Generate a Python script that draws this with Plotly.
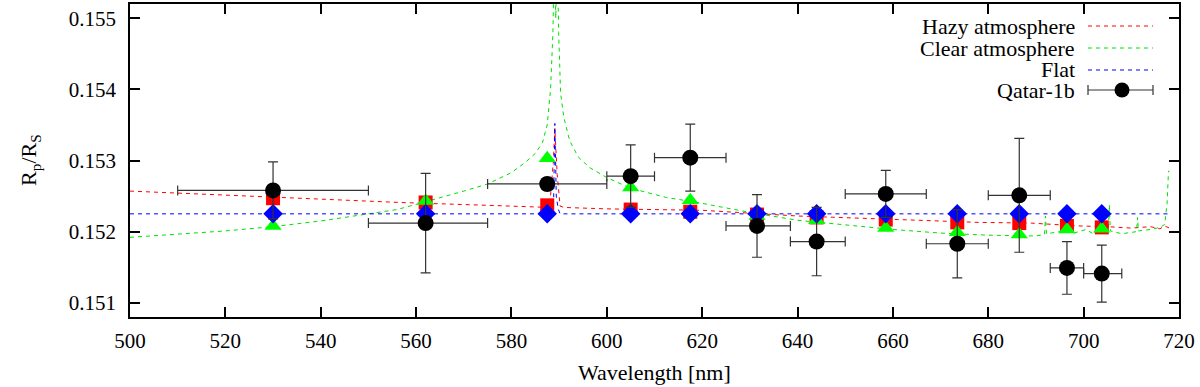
import plotly.graph_objects as go

# ---- observed transmission spectrum (Qatar-1b) ----
wl = [530, 562, 587.5, 605, 617.5, 631.5, 644, 658.5, 673.5, 686.5, 696.5, 703.8]
bin_lo = [510, 550, 575, 600, 610, 625, 638.5, 650, 667, 680, 693, 700]
bin_hi = [550, 575, 600, 610, 625, 638.5, 650, 667, 680, 693, 700, 708]
rp = [0.15258, 0.15212, 0.15267, 0.15278, 0.15304, 0.15208, 0.15186, 0.15253,
      0.15183, 0.15251, 0.15149, 0.15141]
rp_err = [0.0004, 0.0007, 0.00008, 0.00044, 0.00047, 0.00044, 0.00048, 0.00033,
          0.00048, 0.0008, 0.00037, 0.0004]

# ---- binned model values ----
hazy_pts = [0.15247, 0.15241, 0.15237, 0.15231, 0.15228, 0.15224, 0.15220, 0.15217,
            0.15213, 0.15212, 0.15208, 0.15206]
clear_pts = [0.15208, 0.15243, 0.15303, 0.15262, 0.15244, 0.15222, 0.15216, 0.15205,
             0.15199, 0.15196, 0.15203, 0.15204]
flat_pts = [0.15225] * 12

# ---- model spectra ----
hazy_wl = [500, 530, 556.6, 575, 588.0, 588.8, 589.1, 589.6, 590.2, 591, 600, 620,
           630, 640, 661, 678, 689, 699, 705, 710, 714, 716, 717, 718]
hazy_val = [0.15257, 0.15248, 0.15241, 0.15237, 0.15234, 0.15300, 0.15345, 0.15280,
            0.15236, 0.15234, 0.15232, 0.15230, 0.15226, 0.15222, 0.15217, 0.15213,
            0.15212, 0.15208, 0.15207, 0.15205, 0.15207, 0.15204, 0.15208, 0.15205]

clear_wl = [500, 510, 520, 530, 540, 550, 556, 562, 566, 570, 575, 580, 583, 585,
            586.5, 587.5, 588.2, 588.7, 589.0, 589.3, 589.6, 589.9, 590.3, 591,
            592.2, 594, 596.4, 600, 605, 612.5, 619, 630, 640, 650, 660, 670, 680,
            688, 690, 691.8, 692.0, 692.2, 694, 696, 698, 700.5, 702, 705.2, 705.4,
            705.6, 708, 711.1, 711.3, 711.5, 714, 716, 717.0, 717.5, 717.8, 718]
clear_val = [0.15192, 0.15196, 0.15201, 0.15207, 0.15215, 0.15225, 0.15231, 0.15242,
             0.15249, 0.15257, 0.15267, 0.15283, 0.15298, 0.15310, 0.15325, 0.15350,
             0.15400, 0.15480, 0.15600, 0.15500, 0.15600, 0.15480, 0.15395, 0.15360,
             0.15328, 0.15305, 0.15290, 0.15276, 0.15261, 0.15248, 0.15241, 0.15227,
             0.15216, 0.15209, 0.15203, 0.15198, 0.15195, 0.15194, 0.15194, 0.15196,
             0.15222, 0.15197, 0.15199, 0.15201, 0.15198, 0.15203, 0.15197, 0.15200,
             0.15238, 0.15201, 0.15197, 0.15200, 0.15220, 0.15201, 0.15203, 0.15206,
             0.15210, 0.15240, 0.15285, 0.15285]

flat_wl = [500, 588.8, 589.1, 589.4, 589.8, 590.2, 718]
flat_val = [0.15225, 0.15225, 0.15352, 0.15250, 0.15232, 0.15225, 0.15225]

x_ticks = [500, 520, 540, 560, 580, 600, 620, 640, 660, 680, 700, 720]
y_ticks = [0.151, 0.152, 0.153, 0.154, 0.155]

FONT = "Liberation Serif"
RED, GREEN, BLUE = "#ff0000", "#00e000", "#0000ff"
DASH = "4px,4px"

fig = go.Figure()
fig.add_trace(go.Scatter(x=hazy_wl, y=hazy_val, mode="lines",
                         line=dict(color=RED, width=1, dash=DASH), showlegend=False))
fig.add_trace(go.Scatter(x=clear_wl, y=clear_val, mode="lines",
                         line=dict(color=GREEN, width=1, dash=DASH), showlegend=False))
fig.add_trace(go.Scatter(x=flat_wl, y=flat_val, mode="lines",
                         line=dict(color=BLUE, width=1, dash=DASH), showlegend=False))
fig.add_trace(go.Scatter(x=wl, y=hazy_pts, mode="markers",
                         marker=dict(symbol="square", size=14, color="#ff0000"), showlegend=False))
fig.add_trace(go.Scatter(x=wl, y=clear_pts, mode="markers",
                         marker=dict(symbol="triangle-up", size=15, color="#00ff00"), showlegend=False))
fig.add_trace(go.Scatter(x=wl, y=flat_pts, mode="markers",
                         marker=dict(symbol="diamond", size=15, color="#0000ff"), showlegend=False))
fig.add_trace(go.Scatter(
    x=wl, y=rp, mode="markers",
    marker=dict(symbol="circle", size=16, color="black"),
    error_y=dict(type="data", array=rp_err, color="#333333", thickness=1.2, width=5),
    error_x=dict(type="data", symmetric=False,
                 array=[h - c for h, c in zip(bin_hi, wl)],
                 arrayminus=[c - l for l, c in zip(bin_lo, wl)],
                 color="#333333", thickness=1.2, width=5),
    showlegend=False))

# ---- custom gnuplot-style legend (text right, sample on the right) ----
L, R_, T, B = 130, 1179, 4, 317
def px(x):
    return (x - L) / (R_ - L)
def py(y):
    return (B - y) / (B - T)

legend_rows = [("Hazy atmosphere", 26, RED), ("Clear atmosphere", 48, GREEN),
               ("Flat", 70, BLUE), ("Qatar-1b", 90, None)]
shapes = []
annotations = []
for text, yy, col in legend_rows:
    annotations.append(dict(text=text, x=px(1077), y=py(yy), xref="paper", yref="paper",
                            xanchor="right", yanchor="middle", showarrow=False,
                            font=dict(family=FONT, size=22, color="black")))
    if col:
        shapes.append(dict(type="line", xref="paper", yref="paper",
                           x0=px(1088), x1=px(1153), y0=py(yy), y1=py(yy),
                           line=dict(color=col, width=1, dash=DASH)))
    else:
        shapes.append(dict(type="line", xref="paper", yref="paper",
                           x0=px(1088), x1=px(1153), y0=py(yy), y1=py(yy),
                           line=dict(color="#333333", width=1.2)))
        for xc in (1088, 1153):
            shapes.append(dict(type="line", xref="paper", yref="paper",
                               x0=px(xc), x1=px(xc), y0=py(yy - 5), y1=py(yy + 5),
                               line=dict(color="#333333", width=1.2)))
        shapes.append(dict(type="circle", xref="paper", yref="paper",
                           x0=px(1114.5), x1=px(1129.5), y0=py(yy - 7.5), y1=py(yy + 7.5),
                           fillcolor="black", line=dict(color="black", width=0)))

annotations.append(dict(text="R<sub>p</sub>/R<sub>S</sub>", x=px(30), y=py(160),
                        xref="paper", yref="paper", textangle=-90, showarrow=False,
                        xanchor="center", yanchor="middle",
                        font=dict(family=FONT, size=22, color="black")))
annotations.append(dict(text="Wavelength [nm]", x=px(654), y=py(372),
                        xref="paper", yref="paper", showarrow=False,
                        xanchor="center", yanchor="middle",
                        font=dict(family=FONT, size=22, color="black")))

fig.update_layout(
    width=1200, height=387,
    margin=dict(l=L, r=1200 - R_, t=T, b=387 - B, autoexpand=False),
    plot_bgcolor="white", paper_bgcolor="white",
    font=dict(family=FONT, size=21, color="black"),
    shapes=shapes, annotations=annotations,
    showlegend=False,
)
fig.update_xaxes(range=[500, 720], tickvals=x_ticks, ticks="inside", ticklen=10,
                 tickwidth=1.5, tickcolor="black", showline=True, linecolor="black",
                 linewidth=1.5, mirror="ticks", showgrid=False, zeroline=False,
                 ticklabelstandoff=4)
fig.update_yaxes(range=[0.1508, 0.1552], tickvals=y_ticks, tickformat=".3f",
                 ticks="inside", ticklen=10, tickwidth=1.5, tickcolor="black",
                 showline=True, linecolor="black", linewidth=1.5, mirror="ticks",
                 showgrid=False, zeroline=False, ticklabelstandoff=8)

fig.write_html("out.html", config={"displayModeBar": False},
               post_script="document.body.style.margin='0px';document.body.style.padding='0px';")
